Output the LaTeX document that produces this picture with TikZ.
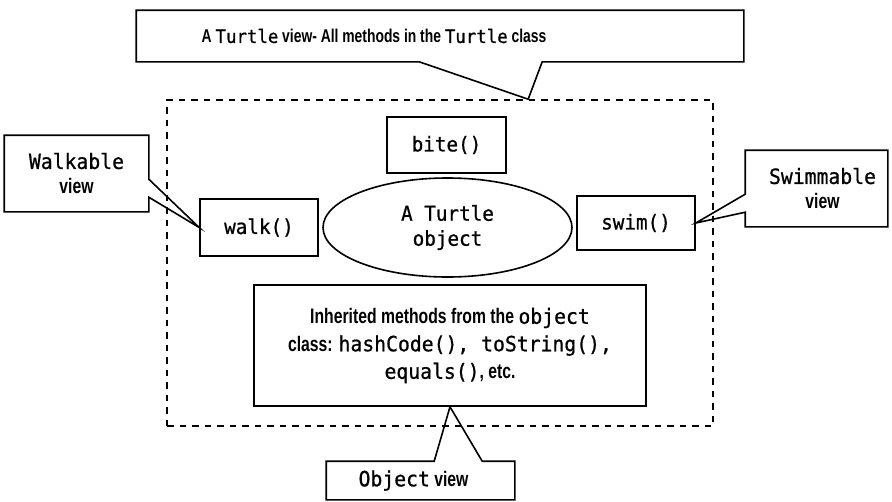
\documentclass[tikz,border=0pt]{standalone}
\usepackage{fontspec}
\setmainfont{Liberation Sans}[FakeStretch=0.75]
\setmonofont{DejaVu Sans Mono}[FakeStretch=0.94, FakeBold=0.8]
\usetikzlibrary{shapes.geometric,calc}

\begin{document}
\begin{tikzpicture}[x=1pt,y=-1pt,line width=1.6pt,
    method/.style={draw, rectangle, inner sep=0pt, font=\fontsize{20.5}{25}\selectfont\ttfamily},
    viewbox/.style={inner sep=0pt, align=center, font=\fontsize{21}{25}\selectfont\bfseries},
    viewline/.style={line join=miter}]
    \useasboundingbox (0,0) rectangle (892,501);
    % the Turtle object and its methods
    \node[draw, dash pattern=on 6.5pt off 6pt, minimum width=546pt, minimum height=326pt] (frame) at (440,263) {};
    \node[method, minimum width=119pt, minimum height=56pt] (bite) at (446.5,145) {bite()};
    \node[method, minimum width=118pt, minimum height=57pt] (walk) at (259,227.5) {walk()};
    \node[draw, ellipse, align=center, minimum width=249pt, minimum height=99pt, inner sep=0pt, font=\fontsize{20.5}{25}\selectfont\ttfamily] (turtle) at (447.5,227.5) {A Turtle\\object};
    \node[method, minimum width=118pt, minimum height=54pt] (swim) at (636,223) {swim()};
    \node[draw, minimum width=392pt, minimum height=121pt, align=center, font=\fontsize{21}{27.5}\selectfont\bfseries] (inherited) at (450,345.5)
        {Inherited methods from the \texttt{\mdseries object}\\
         class: \texttt{\mdseries hashCode(), toString(),}\\
         \texttt{\mdseries equals()}, etc.};
    \coordinate (hook) at ($(frame.north west)!0.661!(frame.north east)$);
    % the views
    \node[minimum width=606pt, minimum height=50pt] (turtleview) at (440,36) {};
    \node[viewbox, font=\fontsize{18.5}{22}\selectfont\bfseries] (turtletext) at ($(turtleview.center)+(-66,0)$)
        {A \texttt{\mdseries Turtle} view- All methods in the \texttt{\mdseries Turtle} class};
    \draw[viewline] (turtleview.north west) -- (turtleview.north east) -- (turtleview.south east)
        -- ($(turtleview.south west)+(406,0)$) -- (hook) -- ($(turtleview.south west)+(283,0)$) -- (turtleview.south west) -- cycle;
    \node[viewbox, minimum width=143pt, minimum height=75pt] (walkview) at (76.5,173.5)
        {\texttt{\mdseries Walkable}\\view};
    \draw[viewline] (walkview.north west) -- (walkview.north east) -- ($(walkview.north east)+(0,44)$) -- (walk.west)
        -- ($(walkview.north east)+(0,62)$) -- (walkview.south east) -- (walkview.south west) -- cycle;
    \node[viewbox, minimum width=141pt, minimum height=75pt] (swimview) at (816.5,188.5)
        {\hspace*{12pt}\texttt{\mdseries Swimmable}\\\hspace*{12pt}view};
    \draw[viewline] (swimview.north east) -- (swimview.north west) -- ($(swimview.north west)+(0,44)$) -- (swim.east)
        -- ($(swimview.north west)+(0,62)$) -- (swimview.south west) -- (swimview.south east) -- cycle;
    \node[viewbox, minimum width=187pt, minimum height=37pt] (objectview) at (420.5,480.5)
        {\texttt{\mdseries Object} view\hspace*{14pt}};
    \draw[viewline] (objectview.south west) -- (objectview.north west) -- ($(objectview.north west)+(108,0)$) -- (inherited.south)
        -- ($(objectview.north west)+(156,0)$) -- (objectview.north east) -- (objectview.south east) -- cycle;
\end{tikzpicture}
\end{document}
